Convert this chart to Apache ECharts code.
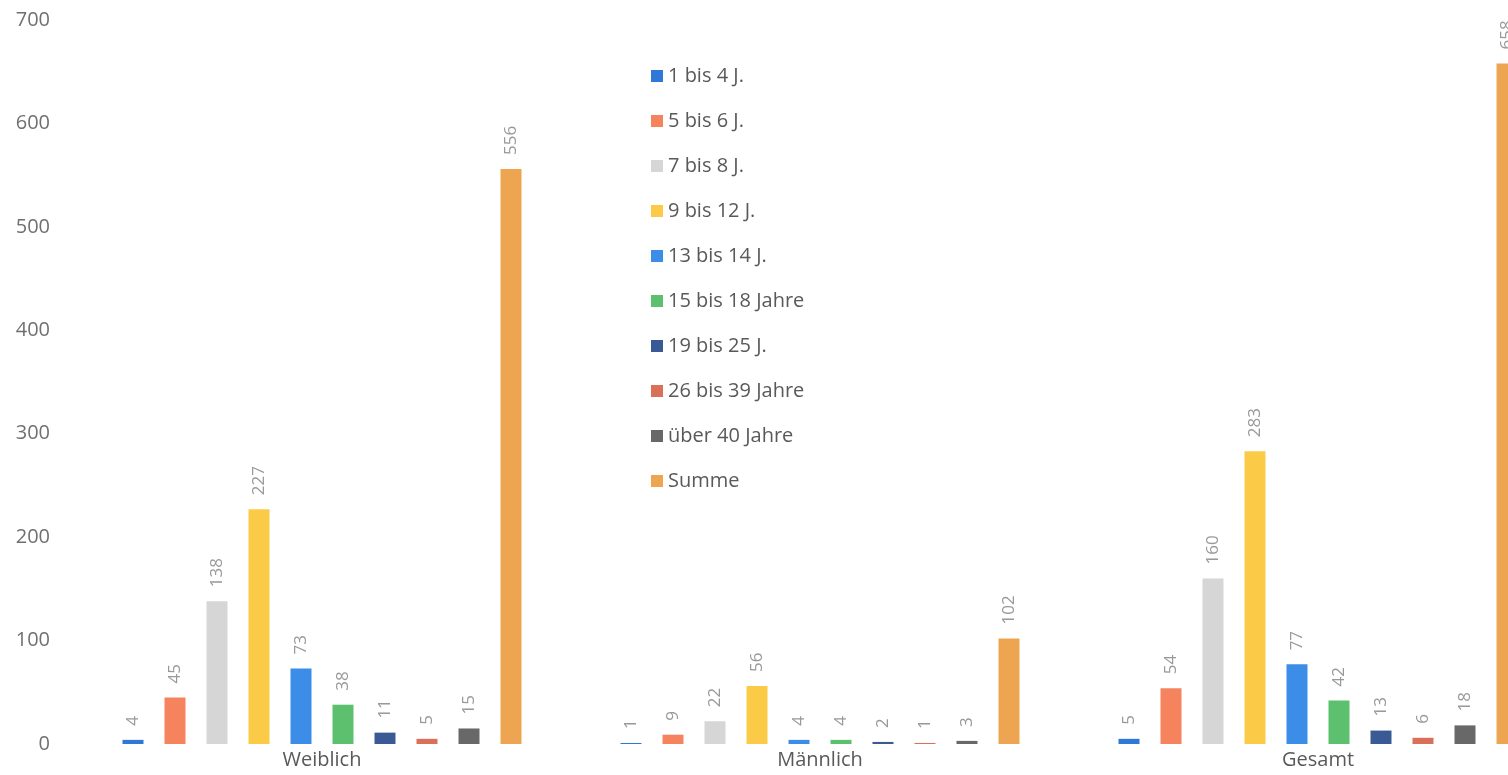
<!DOCTYPE html>
<html>
<head>
<meta charset="utf-8">
<script src="https://cdn.jsdelivr.net/npm/echarts@6/dist/echarts.min.js"></script>
<style>
html,body{margin:0;padding:0;background:#fff;}
#c{width:1508px;height:775px;}
</style>
</head>
<body>
<div id="c"></div>
<script>
const categories = ['Weiblich', 'Männlich', 'Gesamt'];
const seriesNames = ['1 bis 4 J.', '5 bis 6 J.', '7 bis 8 J.', '9 bis 12 J.', '13 bis 14 J.', '15 bis 18 Jahre', '19 bis 25 J.', '26 bis 39 Jahre', 'über 40 Jahre', 'Summe'];
const v1bis4 = [4, 1, 5];
const v5bis6 = [45, 9, 54];
const v7bis8 = [138, 22, 160];
const v9bis12 = [227, 56, 283];
const v13bis14 = [73, 4, 77];
const v15bis18 = [38, 4, 42];
const v19bis25 = [11, 2, 13];
const v26bis39 = [5, 1, 6];
const vUeber40 = [15, 3, 18];
const vSumme = [556, 102, 658];
const yTicks = [0, 100, 200, 300, 400, 500, 600, 700];

const seriesData = [v1bis4, v5bis6, v7bis8, v9bis12, v13bis14, v15bis18, v19bis25, v26bis39, vUeber40, vSumme];
const colors = ['#2F78D8', '#F5845E', '#D6D6D6', '#FBCB48', '#3B8DE8', '#5DC06F', '#3A5A95', '#DA6F5A', '#686868', '#EDA552'];

const chart = echarts.init(document.getElementById('c'));
chart.setOption({
  animation: false,
  backgroundColor: '#ffffff',
  textStyle: { fontFamily: 'Open Sans' },
  grid: { left: 73, top: 20, width: 1494, height: 724, containLabel: false, outerBoundsMode: 'none' },
  legend: {
    orient: 'vertical',
    left: 646,
    top: 60,
    itemWidth: 12,
    itemHeight: 12,
    itemGap: 23,
    icon: 'rect',
    textStyle: { fontSize: 20, lineHeight: 22, color: '#595959', fontFamily: 'Open Sans' },
    data: seriesNames
  },
  xAxis: {
    type: 'category',
    data: categories,
    axisLine: { show: false },
    axisTick: { show: false },
    axisLabel: { fontSize: 20, color: '#595959', margin: 6 }
  },
  yAxis: {
    type: 'value',
    min: yTicks[0],
    max: yTicks[yTicks.length - 1],
    interval: 100,
    splitLine: { show: false },
    axisLine: { show: false },
    axisTick: { show: false },
    axisLabel: { fontSize: 20, color: '#707070', margin: 23 }
  },
  series: seriesNames.map((name, i) => ({
    name: name,
    type: 'bar',
    data: seriesData[i],
    barWidth: 21,
    barGap: '100%',
    itemStyle: { color: colors[i] },
    label: {
      show: true,
      position: 'top',
      rotate: 90,
      align: 'left',
      verticalAlign: 'middle',
      distance: 14,
      fontSize: 17,
      color: '#999999'
    }
  }))
});
</script>
</body>
</html>
